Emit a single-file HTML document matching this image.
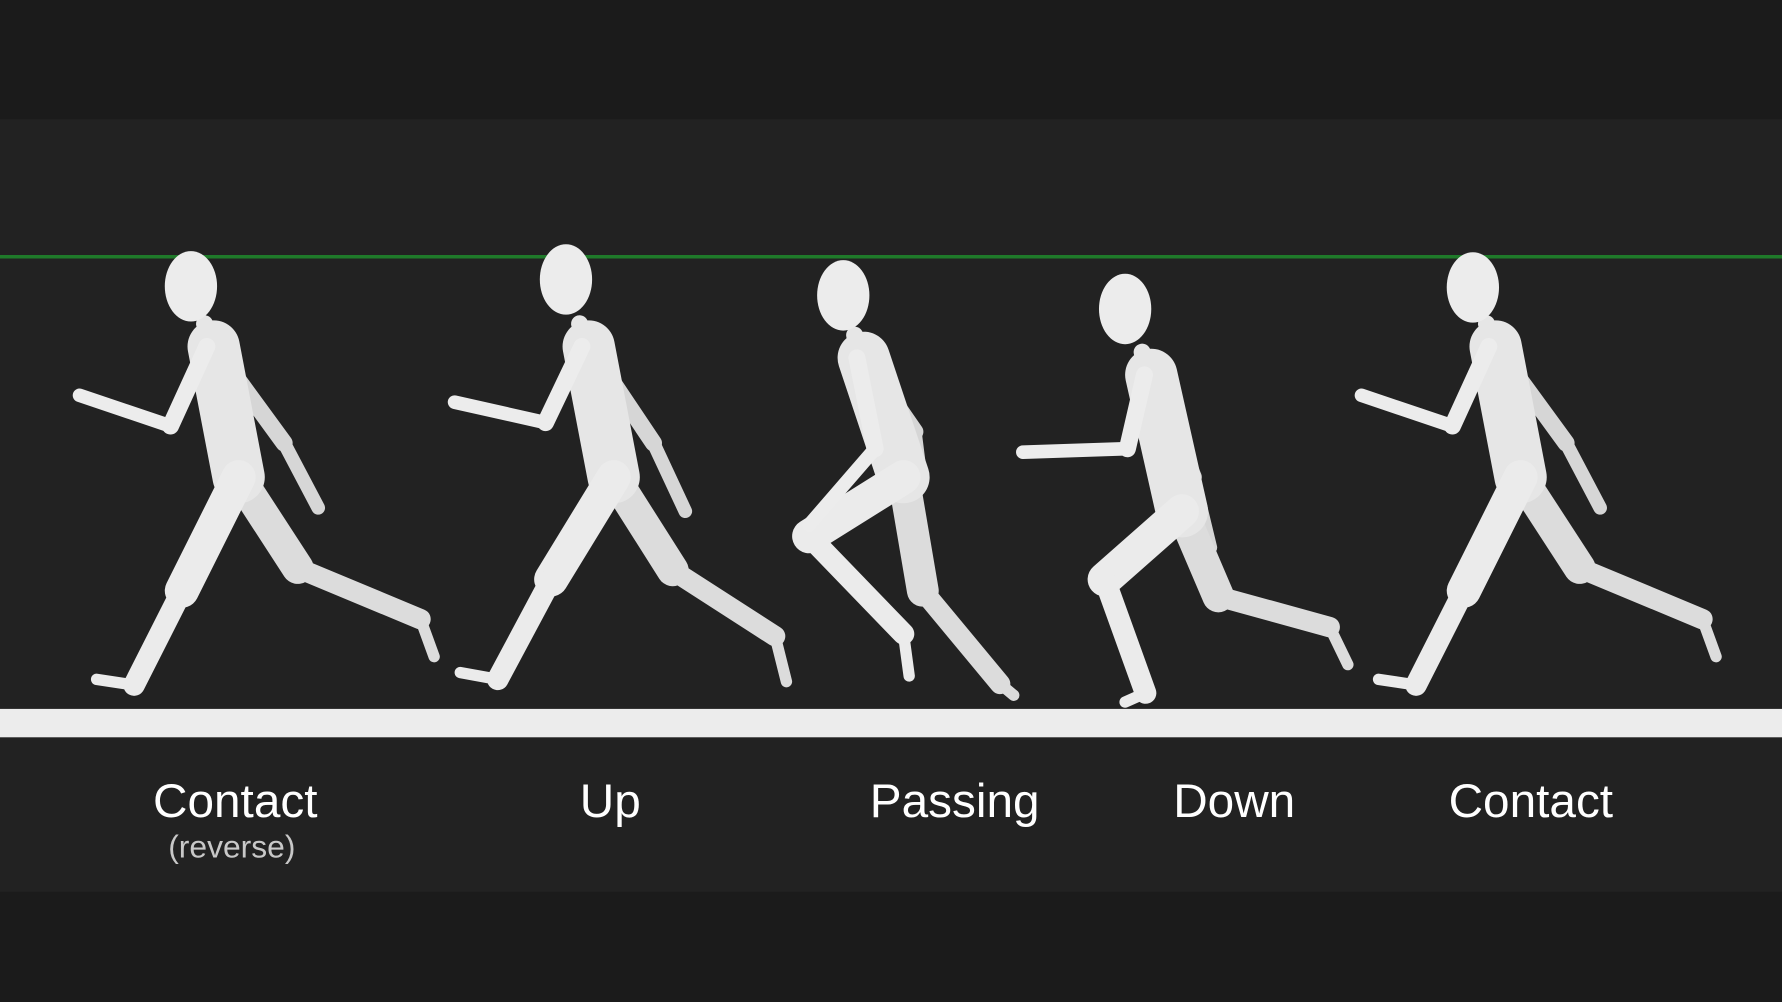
<!DOCTYPE html>
<html><head><meta charset="utf-8"><style>
html,body{margin:0;padding:0;background:#1a1a1a;}
svg{display:block}
text{font-family:"Liberation Sans","DejaVu Sans",sans-serif}
</style></head><body>
<svg width="1782" height="1002" viewBox="0 0 1568 882" preserveAspectRatio="none">
<rect x="0" y="0" width="1568" height="882" fill="#1b1b1b"/>
<rect x="0" y="105" width="1568" height="680" fill="#222222"/>
<line x1="0" y1="226" x2="1568" y2="226" stroke="#1f7a2a" stroke-width="3"/>
<rect x="0" y="624" width="1568" height="25" fill="#ececec"/>
<g id="figs"></g>
<g fill="#ffffff" font-size="42" text-anchor="middle">
<text x="207" y="719">Contact</text>
<text x="204" y="755" font-size="28" fill="#c8c8c8">(reverse)</text>
<text x="537" y="719">Up</text>
<text x="840" y="719">Passing</text>
<text x="1086" y="719">Down</text>
<text x="1347" y="719">Contact</text>
</g>
</svg>
<script>
const poses=[
 {name:'contact-reverse',head:[168,252],neck:[180,290],hip:[210,420],fk:[160,520],fa:[118,603],ft:[85,598],bk:[262,500],ba:[370,545],bt:[382,578],fe:[150,375],fh:[70,348],be:[250,390],bh:[280,447]},
 {name:'up',head:[498,246],neck:[510,290],hip:[540,420],fk:[485,510],fa:[438,598],ft:[405,592],bk:[592,502],ba:[682,560],bt:[692,600],fe:[480,372],fh:[400,354],be:[575,390],bh:[603,450]},
 {name:'passing',head:[742,260],neck:[752,300],hip:[795,420],fk:[712,472],fa:[795,558],ft:[800,595],bk:[812,520],ba:[880,602],bt:[892,612],fe:[770,395],fh:[712,462],be:[805,380],bh:[810,420]},
 {name:'down',head:[990,272],neck:[1005,315],hip:[1040,450],fk:[972,510],fa:[1008,610],ft:[990,618],bk:[1072,525],ba:[1170,552],bt:[1186,585],fe:[992,395],fh:[900,398],be:[1050,420],bh:[1065,482]},
 {name:'contact',head:[1296,253],neck:[1308,290],hip:[1338,420],fk:[1288,520],fa:[1246,603],ft:[1213,598],bk:[1390,500],ba:[1498,545],bt:[1510,578],fe:[1278,375],fh:[1198,348],be:[1378,390],bh:[1408,447]}
];
const NS='http://www.w3.org/2000/svg';
const g=document.getElementById('figs');
function seg(p,a,b,w,c){const l=document.createElementNS(NS,'line');l.setAttribute('x1',a[0]);l.setAttribute('y1',a[1]);l.setAttribute('x2',b[0]);l.setAttribute('y2',b[1]);l.setAttribute('stroke',c);l.setAttribute('stroke-width',w);l.setAttribute('stroke-linecap','round');p.appendChild(l);}
poses.forEach(f=>{
 const fg=document.createElementNS(NS,'g');
 
 
 const sh=[f.neck[0]+8,f.neck[1]+15];
 seg(fg,sh,f.be,15,'#d6d6d6');seg(fg,f.be,f.bh,12,'#d6d6d6');
 seg(fg,f.hip,f.bk,28,'#dcdcdc');seg(fg,f.bk,f.ba,18,'#dcdcdc');seg(fg,f.ba,f.bt,10,'#dcdcdc');
 seg(fg,sh,f.hip,46,'#e6e6e6');
 seg(fg,[f.neck[0],f.neck[1]-5],[f.neck[0]+4,f.neck[1]+10],15,'#e6e6e6');
 seg(fg,f.hip,f.fk,30,'#ebebeb');seg(fg,f.fk,f.fa,19,'#ebebeb');seg(fg,f.fa,f.ft,10,'#ebebeb');
 seg(fg,[sh[0]-6,sh[1]],f.fe,15,'#ececec');seg(fg,f.fe,f.fh,12,'#ececec');
 const h=document.createElementNS(NS,'ellipse');h.setAttribute('cx',f.head[0]);h.setAttribute('cy',f.head[1]);h.setAttribute('rx',23);h.setAttribute('ry',31);h.setAttribute('fill','#ececec');fg.appendChild(h);
 g.appendChild(fg);
});
</script>
</body></html>
